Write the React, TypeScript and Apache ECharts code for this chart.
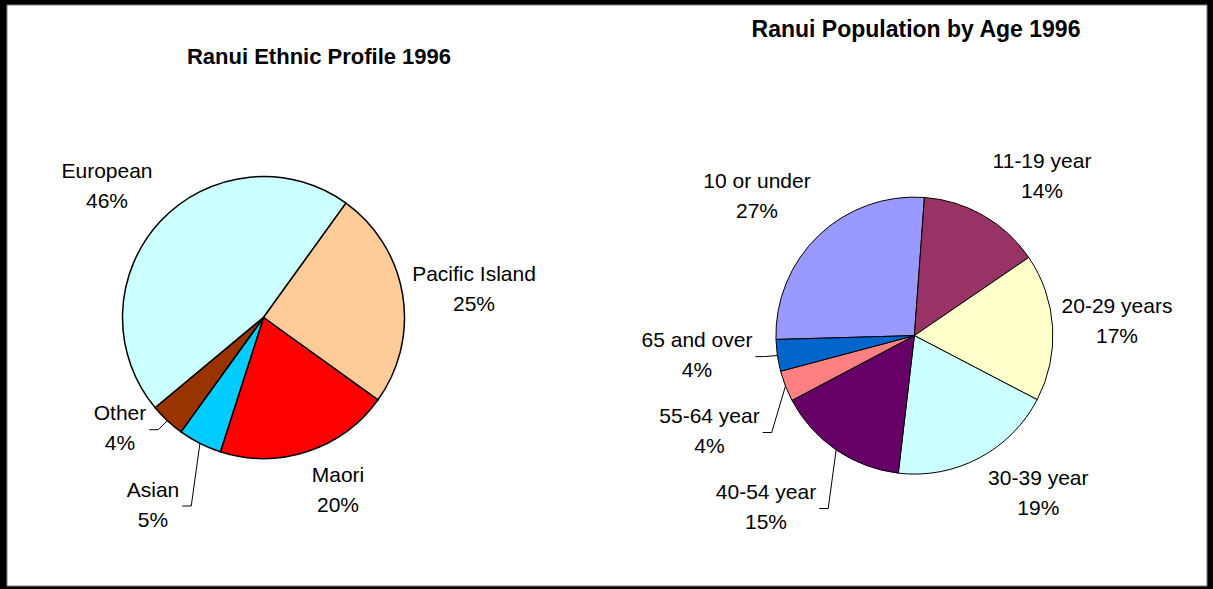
import React, { useEffect, useRef } from 'react';
import * as echarts from 'echarts';

// ---- data ----
const ethnicCategories = ['European', 'Pacific Island', 'Maori', 'Asian', 'Other'];
const ethnicValues = [46, 25, 20, 5, 4];

const ageCategories = ['10 or under', '11-19 year', '20-29 years', '30-39 year', '40-54 year', '55-64 year', '65 and over'];
const ageValues = [26.6, 14.3, 17.2, 19.2, 15.4, 3.6, 3.7];

const ethnicTitle = 'Ranui Ethnic Profile 1996';
const ageTitle = 'Ranui Population by Age 1996';

// ---- styles / layout ----
const FONT = '"Liberation Sans", Arial, Helvetica, sans-serif';
const ethnicColors = ['#CCFFFF', '#FFCC99', '#FF0000', '#00CCFF', '#993300'];
const ageColors = ['#9999FF', '#993366', '#FFFFCC', '#CCFFFF', '#660066', '#FF8080', '#0066CC'];

const ethnicLabelCenters: number[][] = [[107, 185.5], [474, 288], [338, 489.5], [153, 504], [120, 427.7]];
const ethnicLeader = [false, false, false, true, true];
const ageLabelCenters: number[][] = [[757, 195], [1042, 175], [1117, 320.5], [1038.3, 492.5], [766, 506.5], [709.5, 430.5], [697, 354.6]];
const ageLeader = [false, false, false, false, true, true, true];

function makeLayout(centers: number[][], leaders: boolean[]) {
  return (params: any) => {
    const [x, y] = centers[params.dataIndex];
    const out: any = { x, y, align: 'center', verticalAlign: 'middle' };
    if (leaders[params.dataIndex] && params.labelLinePoints) {
      const start = params.labelLinePoints[0];
      const end = x + params.labelRect.width / 2 + 3;
      const ly = y + 2;
      out.labelLinePoints = [start, [end + 9, ly], [end, ly]];
    }
    return out;
  };
}

function pieSeries(
  names: string[], values: number[], colors: string[], leaders: boolean[],
  centers: number[][], center: number[], radius: number, startAngle: number, borderWidth: number
) {
  return {
    type: 'pie',
    center,
    radius,
    startAngle,
    clockwise: true,
    percentPrecision: 0,
    avoidLabelOverlap: false,
    silent: true,
    emphasis: { disabled: true },
    itemStyle: { borderColor: '#000', borderWidth },
    label: {
      show: true,
      position: 'outside',
      formatter: '{b}\n{d}%',
      fontFamily: FONT,
      fontSize: 21,
      lineHeight: 30,
      color: '#000',
    },
    labelLine: { show: true, length: 10, length2: 10, lineStyle: { color: '#000', width: 1 } },
    labelLayout: makeLayout(centers, leaders),
    data: names.map((name, i) => ({
      name,
      value: values[i],
      itemStyle: { color: colors[i] },
      labelLine: { show: leaders[i] },
    })),
  };
}

export default function App() {
  const ref = useRef<HTMLDivElement>(null);
  useEffect(() => {
    if (!ref.current) return;
    const chart = echarts.init(ref.current, null, { renderer: 'svg' });
    chart.setOption({
      animation: false,
      backgroundColor: '#000',
      graphic: [
        {
          type: 'rect', z: 0, silent: true,
          shape: { x: 7, y: 5, width: 1200, height: 581 },
          style: { fill: '#fff', stroke: '#808080', lineWidth: 1 },
        },
        {
          type: 'text', z: 10, x: 319, y: 56,
          style: { text: ethnicTitle, font: `bold 22px ${FONT}`, fill: '#000', align: 'center', verticalAlign: 'middle' },
        },
        {
          type: 'text', z: 10, x: 916, y: 28.5,
          style: { text: ageTitle, font: `bold 23px ${FONT}`, fill: '#000', align: 'center', verticalAlign: 'middle' },
        },
      ],
      series: [
        pieSeries(ethnicCategories, ethnicValues, ethnicColors, ethnicLeader, ethnicLabelCenters, [263.5, 317.5], 141, 219.8, 1.5),
        pieSeries(ageCategories, ageValues, ageColors, ageLeader, ageLabelCenters, [914.4, 335.6], 138.5, 181.6, 1),
      ],
    });
    return () => chart.dispose();
  }, []);
  return (
    <div
      ref={ref}
      style={{ position: 'fixed', left: 0, top: 0, width: 1213, height: 589 }}
    />
  );
}
